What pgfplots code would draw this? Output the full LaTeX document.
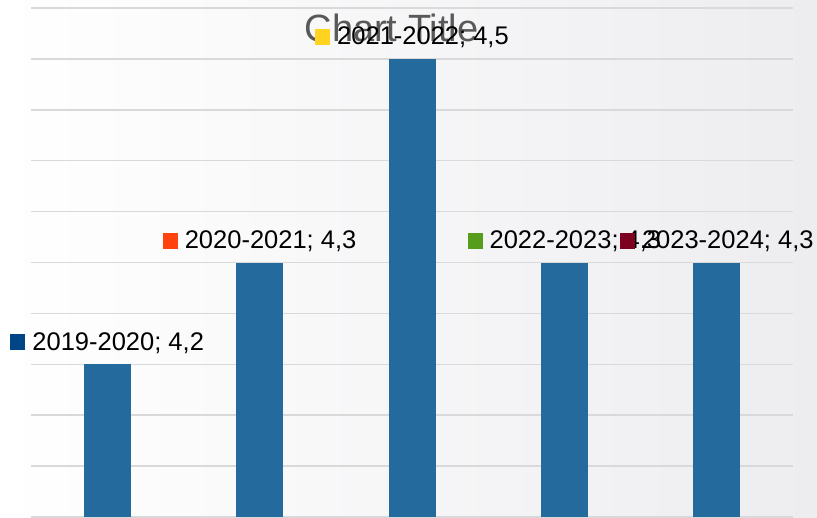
\documentclass[border=0pt]{standalone}
\usepackage{fontspec}
\setmainfont{Liberation Sans}
\usepackage{pgfplots}
\pgfplotsset{compat=1.18}
\definecolor{barblue}{HTML}{256A9C}
\definecolor{gridgray}{HTML}{D9D9D9}
\definecolor{titlegray}{HTML}{595959}
\definecolor{bgright}{HTML}{EDEDF0}
\definecolor{cA}{HTML}{004586}
\definecolor{cB}{HTML}{FF420E}
\definecolor{cC}{HTML}{FFD320}
\definecolor{cD}{HTML}{579D1C}
\definecolor{cE}{HTML}{7E0021}

% data label: colour key, category, value
\newcommand{\lab}[2]{\textcolor{#1}{\rule{15pt}{16pt}}\hspace{7pt}#2; \pgfmathprintnumber{\pgfplotspointmeta}}

\begin{document}
\begin{tikzpicture}
  \useasboundingbox (0,0) rectangle (817pt,517pt);
  \shade[left color=white, right color=bgright] (0,0) rectangle (817pt,517pt);

  \node[titlegray, font=\fontsize{38}{40}\selectfont, anchor=center] at (391.5pt,489pt) {Chart Title};

  \begin{axis}[
      at={(31pt,0pt)}, anchor=south west,
      width=762pt, height=509pt, scale only axis,
      ybar, bar width=47pt,
      xmin=-0.5, xmax=4.5, ymin=4.05, ymax=4.55,
      enlargelimits=false,
      ytick={4.05,4.1,4.15,4.2,4.25,4.3,4.35,4.4,4.45,4.5,4.55},
      yticklabels={}, xtick=\empty,
      major tick length=0pt,
      ymajorgrids, grid style={gridgray, line width=1.5pt},
      axis line style={draw=none},
      clip=false,
      nodes near coords style={font=\fontsize{25.5}{30}\selectfont, text=black,
        anchor=base, yshift=14pt},
      /pgf/number format/.cd, fixed, precision=1, use comma, assume math mode=true,
    ]
    \addplot[fill=barblue, draw=none, bar shift=0pt,
      nodes near coords={\lab{cA}{2019-2020}}] coordinates {(0,4.2)};
    \addplot[fill=barblue, draw=none, bar shift=0pt,
      nodes near coords={\lab{cB}{2020-2021}}] coordinates {(1,4.3)};
    \addplot[fill=barblue, draw=none, bar shift=0pt,
      nodes near coords={\lab{cC}{2021-2022}}] coordinates {(2,4.5)};
    \addplot[fill=barblue, draw=none, bar shift=0pt,
      nodes near coords={\lab{cD}{2022-2023}}] coordinates {(3,4.3)};
    \addplot[fill=barblue, draw=none, bar shift=0pt,
      nodes near coords={\lab{cE}{2023-2024}}] coordinates {(4,4.3)};
  \end{axis}
\end{tikzpicture}
\end{document}
